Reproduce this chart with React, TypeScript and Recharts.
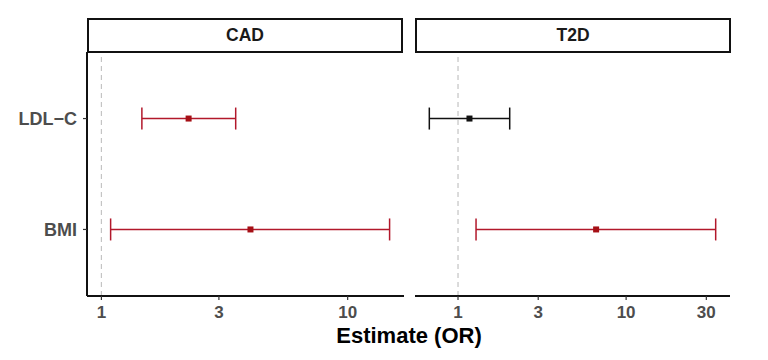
import { ScatterChart, Scatter, XAxis, YAxis, ErrorBar, ReferenceLine } from "recharts";

const exposures = ["BMI", "LDL−C"];
const outcomes = ["CAD", "T2D"];

const cadEstimate = [4.03, 2.26];
const cadLower = [1.09, 1.46];
const cadUpper = [14.8, 3.51];

const t2dEstimate = [6.63, 1.17];
const t2dLower = [1.28, 0.675];
const t2dUpper = [34.1, 2.03];

const cadTicks = [1, 3, 10];
const t2dTicks = [1, 3, 10, 30];

const RED = "#b2182b";
const BLACK = "#111111";
const FONT = "'Liberation Sans', Arial, sans-serif";

type Row = { x: number; y: number; err: [number, number]; sig: boolean };

function buildRows(est: number[], lo: number[], hi: number[]): Row[] {
  return est.map((e, i) => ({
    x: e,
    y: i + 1,
    err: [e - lo[i], hi[i] - e],
    sig: lo[i] > 1,
  }));
}

// ggplot-style log domain: data range incl. the vline at 1, expanded 5%
function logDomain(lo: number[], hi: number[]): [number, number] {
  const a = Math.log10(Math.min(1, ...lo));
  const b = Math.log10(Math.max(1, ...hi));
  const pad = (b - a) * 0.05;
  return [Math.pow(10, a - pad), Math.pow(10, b + pad)];
}

const square = (color: string) => (props: any) =>
  <rect x={props.cx - 3} y={props.cy - 3} width={6} height={6} fill={color} />;

const tickStyle = { fill: "#4d4d4d", fontSize: 17, fontWeight: 700, fontFamily: FONT };

function Panel({ rows, domain, ticks, showY, width, margin }: {
  rows: Row[]; domain: [number, number]; ticks: number[]; showY: boolean;
  width: number; margin: { top: number; right: number; bottom: number; left: number };
}) {
  const red = rows.filter((r) => r.sig);
  const black = rows.filter((r) => !r.sig);
  return (
    <ScatterChart width={width} height={360} margin={margin}>
      <XAxis
        type="number"
        dataKey="x"
        scale="log"
        domain={domain}
        allowDataOverflow
        ticks={ticks}
        height={64}
        tick={tickStyle}
        tickSize={4}
        tickMargin={6}
        axisLine={{ stroke: "#111", strokeWidth: 2 }}
        tickLine={{ stroke: "#333", strokeWidth: 1.2 }}
      />
      <YAxis
        type="number"
        dataKey="y"
        domain={[0.4, 2.6]}
        allowDataOverflow
        ticks={[1, 2]}
        tickFormatter={(v: number) => exposures[v - 1]}
        hide={!showY}
        width={showY ? 87 : 0}
        tick={{ ...tickStyle, fontSize: 18 }}
        tickSize={4}
        tickMargin={6}
        axisLine={{ stroke: "#111", strokeWidth: 2 }}
        tickLine={{ stroke: "#333", strokeWidth: 1.2 }}
      />
      <ReferenceLine x={1} stroke="#c4c4c4" strokeDasharray="5 4" strokeWidth={1.2} />
      <Scatter data={red} fill={RED} shape={square("#a50f15")} isAnimationActive={false}>
        <ErrorBar dataKey="err" direction="x" width={11} stroke={RED} strokeWidth={1.5} />
      </Scatter>
      <Scatter data={black} fill={BLACK} shape={square(BLACK)} isAnimationActive={false}>
        <ErrorBar dataKey="err" direction="x" width={11} stroke={BLACK} strokeWidth={1.5} />
      </Scatter>
    </ScatterChart>
  );
}

const stripStyle = (left: number, width: number): React.CSSProperties => ({
  position: "absolute",
  left,
  top: 18,
  width,
  height: 35,
  boxSizing: "border-box",
  border: "2px solid #111",
  background: "#fff",
  display: "flex",
  alignItems: "center",
  justifyContent: "center",
  fontFamily: FONT,
  fontWeight: 700,
  fontSize: 17.5,
  color: "#1a1a1a",
});

export default function App() {
  const cadRows = buildRows(cadEstimate, cadLower, cadUpper);
  const t2dRows = buildRows(t2dEstimate, t2dLower, t2dUpper);
  return (
    <div style={{ position: "absolute", left: 0, top: 0, width: 768, height: 360, background: "#fff", overflow: "hidden" }}>
      <div style={{ position: "absolute", left: 0, top: 0 }}>
        <Panel
          rows={cadRows}
          domain={logDomain(cadLower, cadUpper)}
          ticks={cadTicks}
          showY
          width={410}
          margin={{ top: 52, right: 6, bottom: 0, left: 0 }}
        />
      </div>
      <div style={{ position: "absolute", left: 410, top: 0 }}>
        <Panel
          rows={t2dRows}
          domain={logDomain(t2dLower, t2dUpper)}
          ticks={t2dTicks}
          showY={false}
          width={358}
          margin={{ top: 52, right: 38, bottom: 0, left: 5 }}
        />
      </div>
      <div style={stripStyle(87, 316)}>{outcomes[0]}</div>
      <div style={stripStyle(415, 316)}>{outcomes[1]}</div>
      <div
        style={{
          position: "absolute",
          left: 0,
          width: 818,
          top: 323,
          textAlign: "center",
          fontFamily: FONT,
          fontWeight: 700,
          fontSize: 22,
          color: "#000",
        }}
      >
        Estimate (OR)
      </div>
    </div>
  );
}
